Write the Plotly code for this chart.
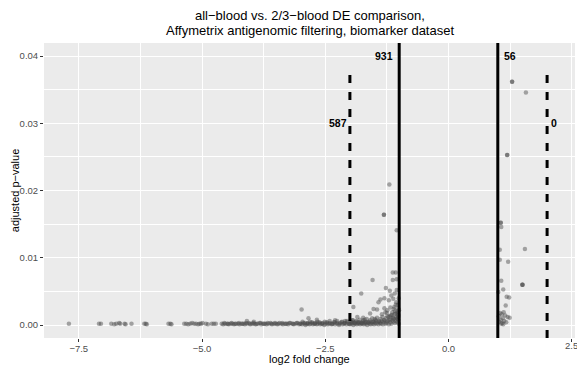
import plotly.graph_objects as go

# ---------------- data ----------------
tail_x = [-7.70, -7.09, -7.05, -6.84, -6.78, -6.74, -6.68, -6.66, -6.57, -6.55, -6.43,
          -6.17, -6.14, -6.12, -5.68, -5.64, -5.62, -5.36, -5.32, -5.28, -5.24, -5.20,
          -5.16, -5.12, -5.08, -5.05, -5.02, -4.99, -4.92, -4.88, -4.80, -4.76, -4.72]
tail_y = [0.0002, 0.0002, 0.0002, 0.0002, 0.0001, 0.0002, 0.0003, 0.0002, 0.0002, 0.0001, 0.0002,
          0.0002, 0.0002, 0.0001, 0.0002, 0.0002, 0.0001, 0.0002, 0.0002, 0.0001, 0.0002, 0.0003,
          0.0002, 0.0002, 0.0001, 0.0002, 0.0002, 0.0003, 0.0002, 0.0001, 0.0002, 0.0002, 0.0002]

band_x = [-4.60, -4.57, -4.53, -4.49, -4.46, -4.42, -4.38, -4.35, -4.31, -4.27, -4.24, -4.20,
          -4.16, -4.13, -4.09, -4.05, -4.02, -3.98, -3.94, -3.91, -3.87, -3.83, -3.80, -3.76,
          -3.72, -3.69, -3.65, -3.61, -3.58, -3.54, -3.50, -3.47, -3.43, -3.39, -3.36, -3.32,
          -3.28, -3.25, -3.21, -3.17, -3.14, -3.10, -3.06, -3.03,
          -3.00, -2.97, -2.95, -2.92, -2.90, -2.87, -2.85, -2.82, -2.80, -2.77, -2.75, -2.72,
          -2.70, -2.67, -2.65, -2.62, -2.60, -2.57, -2.55, -2.52, -2.50, -2.47, -2.45, -2.42,
          -2.40, -2.37, -2.35, -2.32, -2.30, -2.27, -2.25, -2.22, -2.20, -2.17, -2.15, -2.12,
          -2.10, -2.07, -2.05, -2.02,
          -2.00, -1.98, -1.96, -1.95, -1.93, -1.91, -1.89, -1.88, -1.86, -1.84, -1.82, -1.81,
          -1.79, -1.77, -1.75, -1.74, -1.72, -1.70, -1.68, -1.67, -1.65, -1.63, -1.61, -1.60,
          -1.58, -1.56, -1.54, -1.53, -1.51, -1.49, -1.47, -1.46, -1.44, -1.42, -1.40, -1.39,
          -1.37, -1.35, -1.33, -1.32, -1.30, -1.28, -1.26, -1.25, -1.23, -1.21, -1.19, -1.18,
          -1.16, -1.14, -1.12, -1.11, -1.09, -1.07, -1.05, -1.04, -1.02, -1.01]
band_y = [0.0002, 0.0001, 0.0002, 0.0002, 0.0001, 0.0002, 0.0002, 0.0001, 0.0002, 0.0002, 0.0001, 0.0002,
          0.0002, 0.0001, 0.0002, 0.0003, 0.0001, 0.0002, 0.0002, 0.0001, 0.0002, 0.0003, 0.0001, 0.0002,
          0.0002, 0.0001, 0.0002, 0.0003, 0.0001, 0.0002, 0.0002, 0.0001, 0.0003, 0.0002, 0.0001, 0.0002,
          0.0002, 0.0001, 0.0003, 0.0002, 0.0001, 0.0002, 0.0003, 0.0001,
          0.0002, 0.0001, 0.0003, 0.0002, 0.0000, 0.0002, 0.0003, 0.0001, 0.0002, 0.0004, 0.0001, 0.0002,
          0.0003, 0.0001, 0.0002, 0.0004, 0.0001, 0.0002, 0.0003, 0.0000, 0.0002, 0.0004, 0.0001, 0.0002,
          0.0003, 0.0001, 0.0002, 0.0004, 0.0001, 0.0003, 0.0002, 0.0000, 0.0003, 0.0004, 0.0001, 0.0002,
          0.0003, 0.0001, 0.0004, 0.0002,
          0.0001, 0.0003, 0.0002, 0.0004, 0.0000, 0.0003, 0.0002, 0.0005, 0.0001, 0.0003, 0.0002, 0.0004,
          0.0001, 0.0003, 0.0002, 0.0005, 0.0001, 0.0003, 0.0002, 0.0004, 0.0000, 0.0003, 0.0005, 0.0002,
          0.0001, 0.0004, 0.0002, 0.0005, 0.0001, 0.0003, 0.0006, 0.0002, 0.0004, 0.0001, 0.0005, 0.0003,
          0.0002, 0.0006, 0.0001, 0.0004, 0.0007, 0.0002, 0.0005, 0.0003, 0.0006, 0.0001, 0.0008, 0.0004,
          0.0002, 0.0007, 0.0005, 0.0009, 0.0003, 0.0006, 0.0010, 0.0004, 0.0008, 0.0002]

band2_x = [-4.55, -4.47, -4.40, -4.33, -4.25, -4.18, -4.11, -4.03, -3.96, -3.89, -3.81, -3.74,
           -3.67, -3.59, -3.52, -3.45, -3.37, -3.30, -3.23, -3.15, -3.08, -3.01, -2.96, -2.91,
           -2.86, -2.81, -2.76, -2.71, -2.66, -2.61, -2.56, -2.51, -2.46, -2.41, -2.36, -2.31,
           -2.26, -2.21, -2.16, -2.11, -2.06, -2.01, -1.97, -1.94, -1.90, -1.87, -1.83, -1.80,
           -1.76, -1.73, -1.69, -1.66, -1.62, -1.59, -1.55, -1.52, -1.48, -1.45, -1.41, -1.38,
           -1.34, -1.31, -1.27, -1.24, -1.20, -1.17, -1.13, -1.10, -1.06, -1.03, -1.015, -1.005]
band2_y = [0.0003, 0.0002, 0.0003, 0.0002, 0.0003, 0.0002, 0.0003, 0.0002, 0.0003, 0.0002, 0.0003, 0.0002,
           0.0003, 0.0002, 0.0003, 0.0002, 0.0003, 0.0002, 0.0003, 0.0002, 0.0003, 0.0002, 0.0005, 0.0003,
           0.0002, 0.0005, 0.0003, 0.0002, 0.0005, 0.0003, 0.0002, 0.0005, 0.0003, 0.0006, 0.0002, 0.0004,
           0.0006, 0.0002, 0.0005, 0.0003, 0.0006, 0.0002, 0.0005, 0.0007, 0.0003, 0.0006, 0.0004, 0.0008,
           0.0003, 0.0007, 0.0005, 0.0009, 0.0004, 0.0007, 0.0010, 0.0005, 0.0008, 0.0011, 0.0006, 0.0009,
           0.0012, 0.0007, 0.0010, 0.0013, 0.0008, 0.0014, 0.0011, 0.0016, 0.0012, 0.0018, 0.0015, 0.0022]

raised_x = [-1.20, -1.31, -1.05, -1.13, -1.07, -1.54, -1.13, -1.05, -1.27, -1.19, -1.05, -1.77,
            -1.09, -1.38, -1.42, -1.30, -1.21, -1.12, -1.93, -1.52, -1.45, -1.30, -1.18, -1.10,
            -1.03, -2.98, -2.84, -2.67, -4.09, -3.95, -2.30, -2.10, -1.85, -1.59, -1.73, -1.35,
            -1.25, -1.15, -1.08, -1.02, -1.04, -1.22, -1.12, -1.50, -1.70, -1.95, -1.06, -1.16,
            -1.31, -1.28, -1.02, -1.04, -1.08, -1.14, -1.19, -1.24, -1.03, -1.07, -1.11, -1.01]
raised_y = [0.0209, 0.0164, 0.0141, 0.0078, 0.0078, 0.0067, 0.0067, 0.0068, 0.0055, 0.0051, 0.0052, 0.0047,
            0.0047, 0.0038, 0.0034, 0.0040, 0.0037, 0.0039, 0.0027, 0.0024, 0.0023, 0.0025, 0.0026, 0.0027,
            0.0030, 0.0023, 0.0010, 0.0008, 0.0006, 0.0005, 0.0007, 0.0006, 0.0012, 0.0017, 0.0011, 0.0016,
            0.0018, 0.0015, 0.0017, 0.0012, 0.0020, 0.0012, 0.0010, 0.0009, 0.0008, 0.0007, 0.0034, 0.0044,
            0.0164, 0.0019, 0.0025, 0.0009, 0.0021, 0.0019, 0.0013, 0.0022, 0.0016, 0.0030, 0.0024, 0.0040]

right_x = [1.29, 1.29, 1.57, 1.19, 1.19, 1.06, 1.06, 1.07, 1.04, 1.55, 1.04, 1.21, 1.07, 1.50, 1.50,
           1.50, 1.11, 1.01, 1.18, 1.23, 1.16, 1.05, 1.08, 1.12, 1.15, 1.20, 1.10, 1.06, 1.13, 1.03,
           1.09, 1.17, 1.24, 1.02, 1.07, 1.11]
right_y = [0.0362, 0.0362, 0.0346, 0.0253, 0.0253, 0.0152, 0.0152, 0.0146, 0.0112, 0.0113, 0.0097, 0.0094,
           0.0066, 0.0060, 0.0060, 0.0060, 0.0053, 0.0049, 0.0042, 0.0041, 0.0029, 0.0018, 0.0016, 0.0019,
           0.0014, 0.0012, 0.0010, 0.0008, 0.0006, 0.0005, 0.0003, 0.0004, 0.0011, 0.0013, 0.0002, 0.0001]

solid_cut = [-1, 1]
dashed_cut = [-2, 2]
dashed_top = 0.0375
labels = ["931", "587", "56", "0"]
label_x = [-1.105, -2.03, 1.11, 2.06]
label_y = [0.04, 0.03, 0.04, 0.03]
label_anchor = ["right", "right", "left", "left"]

x_ticks = [-7.5, -5.0, -2.5, 0.0, 2.5]
x_ticktext = ["\u22127.5", "\u22125.0", "\u22122.5", "0.0", "2.5"]
x_minor = [-6.25, -3.75, -1.25, 1.25]
y_ticks = [0.00, 0.01, 0.02, 0.03, 0.04]
y_ticktext = ["0.00", "0.01", "0.02", "0.03", "0.04"]
y_minor = [0.005, 0.015, 0.025, 0.035]
x_range = [-8.205, 2.566]
y_range = [-0.00193, 0.04196]

title_lines = ["all\u2212blood vs. 2/3\u2212blood DE comparison,",
               "Affymetrix antigenomic filtering, biomarker dataset"]
x_title = "log2 fold change"
y_title = "adjusted p\u2212value"

# ---------------- figure ----------------
FONT = "Liberation Sans, Arial, sans-serif"
pt_color = "rgba(77,77,77,0.47)"
TICK_FONT = dict(family=FONT, size=9.5, color="#4D4D4D")
PANEL_TOP, PANEL_BOTTOM = 43, 338
PANEL_H = PANEL_BOTTOM - PANEL_TOP


def paper_y(py):
    return (PANEL_BOTTOM - py) / PANEL_H


fig = go.Figure()
all_x = tail_x + band_x + band2_x + raised_x + right_x
all_y = tail_y + band_y + band2_y + raised_y + right_y
fig.add_trace(go.Scatter(x=all_x, y=all_y, mode="markers",
                         marker=dict(size=4.5, color=pt_color, line=dict(width=0)),
                         showlegend=False, hoverinfo="skip"))

for xv in solid_cut:
    fig.add_shape(type="line", xref="x", yref="paper", x0=xv, x1=xv, y0=0, y1=1,
                  line=dict(color="black", width=3))
for xv in dashed_cut:
    fig.add_shape(type="line", xref="x", yref="y", x0=xv, x1=xv, y0=y_range[0], y1=dashed_top,
                  line=dict(color="black", width=3, dash="8px,9px"))

for t, xv, yv, an in zip(labels, label_x, label_y, label_anchor):
    fig.add_annotation(x=xv, y=yv, text="<b>%s</b>" % t, showarrow=False, xanchor=an, yanchor="middle",
                       borderpad=0, font=dict(family=FONT, size=10.5, color="black"))

# title (two centred lines)
for line, py in zip(title_lines, [15.7, 31.0]):
    fig.add_annotation(x=0.5, xref="paper", y=paper_y(py), yref="paper", text=line,
                       showarrow=False, xanchor="center", yanchor="middle", borderpad=0,
                       font=dict(family=FONT, size=13, color="black"))

# the last x tick label sits at the very edge (partly cut, as in the original)
fig.add_annotation(x=x_ticks[-1], xref="x", y=paper_y(345.5), yref="paper", text=x_ticktext[-1],
                   showarrow=False, xanchor="center", yanchor="middle", borderpad=0, font=TICK_FONT)
# axis titles
fig.add_annotation(x=0.5, xref="paper", y=paper_y(358.5), yref="paper", text=x_title,
                   showarrow=False, xanchor="center", yanchor="middle", borderpad=0,
                   font=dict(family=FONT, size=11, color="black"))
fig.add_annotation(x=(14.7 - 44) / 531, xref="paper", y=0.5, yref="paper", text=y_title, textangle=-90,
                   showarrow=False, xanchor="center", yanchor="middle", borderpad=0,
                   font=dict(family=FONT, size=11, color="black"))

fig.update_layout(
    width=577, height=367,
    margin=dict(l=44, r=2, t=PANEL_TOP, b=367 - PANEL_BOTTOM),
    paper_bgcolor="white", plot_bgcolor="#EBEBEB",
    font=dict(family=FONT),
    xaxis=dict(range=x_range, tickvals=x_ticks, ticktext=x_ticktext, showgrid=True,
               gridcolor="white", gridwidth=1.1, zeroline=False, ticks="outside", ticklen=3,
               tickcolor="#333333", tickwidth=1, tickfont=TICK_FONT, ticklabelstandoff=-1,
               minor=dict(tickvals=x_minor, showgrid=True, gridcolor="white", gridwidth=0.5, ticks=""),
               automargin=False),
    yaxis=dict(range=y_range, tickvals=y_ticks, ticktext=y_ticktext, showgrid=True,
               gridcolor="white", gridwidth=1.1, zeroline=False, ticks="outside", ticklen=3,
               tickcolor="#333333", tickwidth=1, tickfont=TICK_FONT,
               minor=dict(tickvals=y_minor, showgrid=True, gridcolor="white", gridwidth=0.5, ticks=""),
               automargin=False),
)

fig.write_html("out.html")
